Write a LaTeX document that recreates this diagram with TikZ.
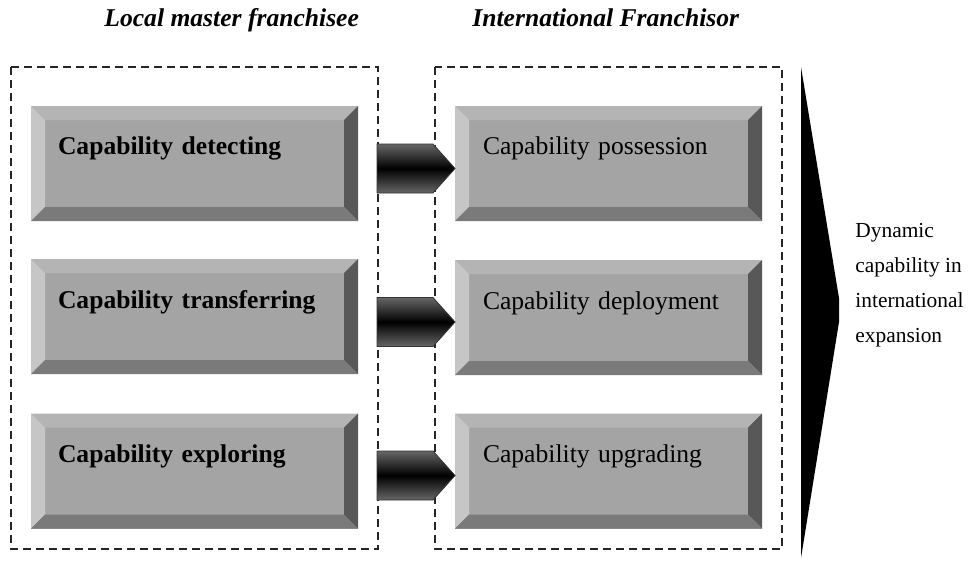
\documentclass[tikz,border=0pt]{standalone}
\usepackage{fontspec}
\setmainfont{Liberation Serif}
\usetikzlibrary{shapes.symbols}
\definecolor{facegray}{HTML}{A4A4A4}
\definecolor{topgray}{HTML}{B4B4B4}
\definecolor{leftgray}{HTML}{C6C6C6}
\definecolor{rightgray}{HTML}{585858}
\definecolor{botgray}{HTML}{7A7A7A}
\tikzset{
  frame/.style={draw=black!85,line width=.75pt,dash pattern=on 4pt off 2.5pt},
  title/.style={anchor=base west,inner sep=0pt,font=\fontsize{12.8}{15}\selectfont\bfseries\itshape},
  bevelbox/.style={rectangle,fill=facegray,inner ysep=0pt,minimum height=57.5pt,
    text height=24.5pt,text depth=33pt,align=left,
    font=\fontsize{12.8}{15}\selectfont,
    path picture={
      \fill[topgray] (path picture bounding box.north west) -- (path picture bounding box.north east)
        -- ([xshift=-7pt,yshift=-7pt]path picture bounding box.north east)
        -- ([xshift=7pt,yshift=-7pt]path picture bounding box.north west) -- cycle;
      \fill[leftgray] (path picture bounding box.north west) -- (path picture bounding box.south west)
        -- ([xshift=7pt,yshift=7pt]path picture bounding box.south west)
        -- ([xshift=7pt,yshift=-7pt]path picture bounding box.north west) -- cycle;
      \fill[rightgray] (path picture bounding box.north east) -- (path picture bounding box.south east)
        -- ([xshift=-7pt,yshift=7pt]path picture bounding box.south east)
        -- ([xshift=-7pt,yshift=-7pt]path picture bounding box.north east) -- cycle;
      \fill[botgray] (path picture bounding box.south west) -- (path picture bounding box.south east)
        -- ([xshift=-7pt,yshift=7pt]path picture bounding box.south east)
        -- ([xshift=7pt,yshift=7pt]path picture bounding box.south west) -- cycle;
    }},
  leftbox/.style={bevelbox,font=\fontsize{12.8}{15}\selectfont\bfseries,
    inner xsep=13.5pt,text width=136.5pt},
  rightbox/.style={bevelbox,inner xsep=14pt,text width=125.5pt},
  blockarrow/.style={signal,signal to=east,signal pointer angle=96,inner sep=0pt,
    minimum width=39pt,minimum height=24.5pt,draw=black!80,line width=.4pt,
    top color=black!60,bottom color=black!60,middle color=black},
  sidetxt/.style={anchor=base west,inner sep=0pt,align=left,font=\fontsize{10.7}{17.5}\selectfont}
}
\begin{document}
\begin{tikzpicture}[x=0.5pt,y=-0.5pt]
  \useasboundingbox (0,0) rectangle (971,562);
  % the two parties
  \draw[frame] (11,67) rectangle (378,549);
  \draw[frame] (435,67) rectangle (782,549);
  \node[title] (lmf) at (104,26) {Local master franchisee};
  \node[title] (ifr) at (472,26) {International Franchisor};
  % capabilities
  \node[leftbox] (detect) at (194.5,163.5) {Capability detecting};
  \node[leftbox] (transf) at (194.5,316.5) {Capability transferring};
  \node[leftbox] (explor) at (194.5,471) {Capability exploring};
  \node[rightbox] (posses) at (608.5,163.5) {Capability possession};
  \node[rightbox] (deploy) at (608.5,317.5) {Capability deployment};
  \node[rightbox] (upgrad) at (608.5,471) {Capability upgrading};
  % block arrows
  \node[blockarrow] (a1) at (405,168.5) {};
  \node[blockarrow] (a2) at (405,322) {};
  \node[blockarrow] (a3) at (405,475.5) {};
  % outcome
  \fill (801,67) -- (839,298) -- (839,322) -- (801,558) -- cycle;
  \node[sidetxt] (dyn) at (855,342) {Dynamic\\capability in\\international\\expansion};
\end{tikzpicture}
\end{document}
